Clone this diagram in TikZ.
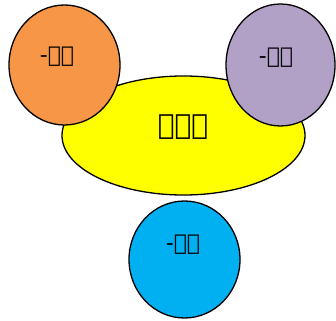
\documentclass[tikz,border=0pt]{standalone}
\usepackage{fontspec}
\newfontfamily\ethfont{DejaVu Sans}
\definecolor{cyel}{HTML}{FFFF00}
\definecolor{corg}{HTML}{F79646}
\definecolor{cpur}{HTML}{B2A1C7}
\definecolor{cblu}{HTML}{00B0F0}
\begin{document}
\begin{tikzpicture}[x=1pt,y=-1pt,
  blob/.style={draw=black,line width=1.3pt},
  lbl/.style={font=\ethfont\fontsize{22}{24}\selectfont,inner sep=0pt}]
\useasboundingbox (0,0) rectangle (336,320);
\draw[blob,fill=cyel] (183.5,135.5) ellipse [x radius=121.5,y radius=59.5];
\draw[blob,fill=corg] (64.5,65) ellipse [x radius=55.5,y radius=60];
\draw[blob,fill=cpur] (280.5,65) ellipse [x radius=54.5,y radius=61];
\draw[blob,fill=cblu] (184.5,259.5) ellipse [x radius=55.5,y radius=58.5];
\node[lbl,font=\ethfont\bfseries\fontsize{28}{30}\selectfont] (main) at (183,127) {አባት};
\node[lbl] (net) at (57,57) {-ነት};
\node[lbl] (och) at (276,58) {-ኦች};
\node[lbl] (awi) at (183,245) {-አዊ};
\end{tikzpicture}
\end{document}
